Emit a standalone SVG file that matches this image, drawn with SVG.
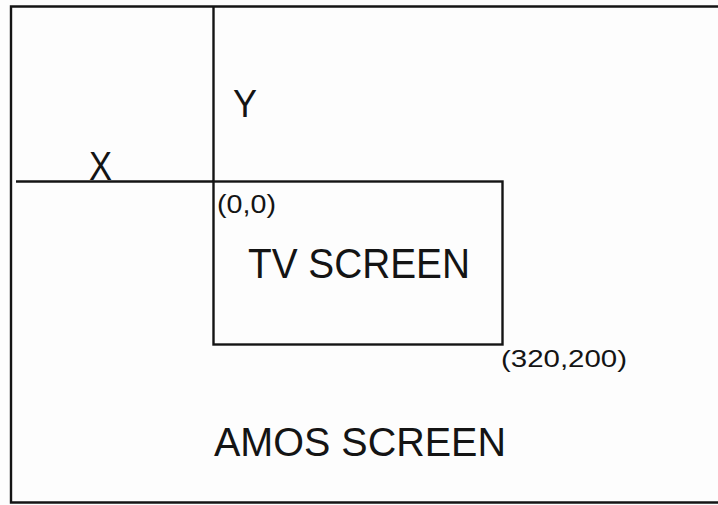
<svg xmlns="http://www.w3.org/2000/svg" width="718" height="505" viewBox="0 0 718 505">
<style>
.ln{fill:none;stroke:#141414;stroke-width:2.4}
.t{font-family:"Liberation Sans",Arial,sans-serif;fill:#141414}
</style>
<rect width="718" height="505" fill="#fdfdfd"/>
<g id="amos-screen">
<path class="ln" d="M720 6.5 H11 V502.5 H720" stroke-width="2.8"/>
<text class="t" x="214" y="456" font-size="40" textLength="292" lengthAdjust="spacingAndGlyphs">AMOS SCREEN</text>
</g>
<g id="axes">
<line class="ln" x1="213.5" y1="6" x2="213.5" y2="182"/>
<line class="ln" x1="16" y1="181.5" x2="214" y2="181.5"/>
<text class="t" x="233" y="117" font-size="39" textLength="24" lengthAdjust="spacingAndGlyphs">Y</text>
<text class="t" x="89" y="180" font-size="40" textLength="23" lengthAdjust="spacingAndGlyphs">X</text>
</g>
<g id="tv-screen">
<rect class="ln" x="213.5" y="181.5" width="289" height="163"/>
<text class="t" x="248" y="278" font-size="42" textLength="222" lengthAdjust="spacingAndGlyphs">TV SCREEN</text>
<text class="t" x="217" y="213" font-size="26" textLength="59" lengthAdjust="spacingAndGlyphs">(0,0)</text>
<text class="t" x="501" y="367" font-size="24" textLength="126" lengthAdjust="spacingAndGlyphs">(320,200)</text>
</g>
</svg>
